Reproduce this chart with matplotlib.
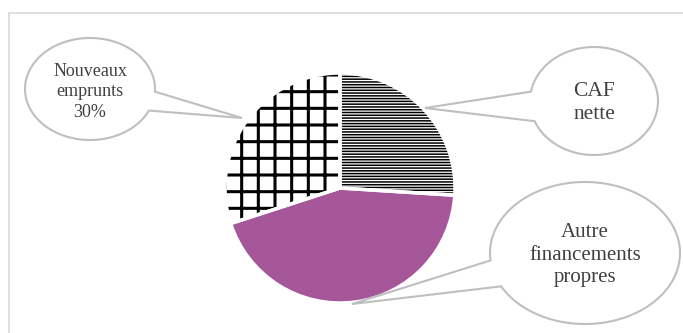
import numpy as np
import matplotlib
matplotlib.use('Agg')
import matplotlib.pyplot as plt
from matplotlib.patches import Polygon, Rectangle

plt.rcParams['font.family'] = ['Liberation Serif', 'DejaVu Serif']

# données
labels = ['CAF\nnette', 'Autre\nfinancements\npropres', 'Nouveaux\nemprunts\n30%']
values = [26, 44, 30]
hatches = ['------', '', '+']
colors = ['white', '#A5579A', 'white']

W, H = 683, 333
fig = plt.figure(figsize=(W / 100, H / 100), dpi=100)
ax = fig.add_axes([0, 0, 1, 1])


def py(y):
    # coordonnees pixel (y vers le bas) -> donnees
    return H - y


# cadre
ax.add_patch(Rectangle((9, py(345)), 690, 332, fill=False, edgecolor='#D9D9D9', lw=1.2))

cx, cy, r = 340, py(188), 115
wedges, _ = ax.pie(values, startangle=90, counterclock=False, colors=colors,
                   explode=[0, 0.015, 0], center=(cx, cy), radius=r,
                   wedgeprops=dict(edgecolor='black', linewidth=0))
for w, h in zip(wedges, hatches):
    if h:
        w.set_hatch(h)
        if hasattr(w, 'set_hatch_linewidth'):
            w.set_hatch_linewidth(2.2 if h == '+' else 1.1)
# traits blancs de separation
ax.pie(values, startangle=90, counterclock=False, colors=['none'] * 3,
       explode=[0, 0.015, 0], center=(cx, cy), radius=r,
       wedgeprops=dict(edgecolor='white', linewidth=2.5))


def bulle(x0, y0, a, b, t1, t2, tip, text, size, ls, dy):
    t = np.radians(np.linspace(t2, t1 + 360, 200))
    xs = x0 + a * np.cos(t)
    ys = y0 + b * np.sin(t)
    pts = list(zip(xs, [py(v) for v in ys])) + [(tip[0], py(tip[1]))]
    ax.add_patch(Polygon(pts, closed=True, facecolor='white', edgecolor='#BFBFBF',
                         lw=1.5, zorder=3))
    ax.text(x0, py(y0 + dy), text, ha='center', va='center', fontsize=size,
            color='#404040', linespacing=ls, zorder=4)


bulle(90, 89, 65, 51, 3, 25, (242, 118), labels[2], 13, 1.3, 3)
bulle(594, 101, 64, 54, 158, 190, (425, 108), labels[0], 15.5, 1.35, 2)
bulle(585, 253, 95, 71, 152, 174, (352, 304), labels[1], 15, 1.25, 2)

ax.set_xlim(0, W)
ax.set_ylim(0, H)
ax.set_aspect('equal')
ax.axis('off')
fig.savefig('out.png', dpi=100)
